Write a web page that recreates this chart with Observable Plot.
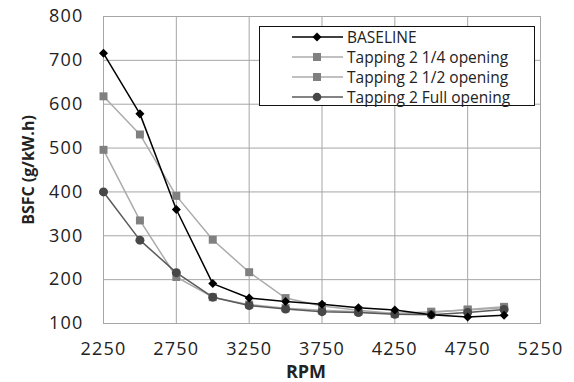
<!DOCTYPE html>
<html>
<head>
<meta charset="utf-8">
<script src="https://cdn.jsdelivr.net/npm/d3@7"></script>
<script src="https://cdn.jsdelivr.net/npm/@observablehq/plot@0.6"></script>
<style>
  html, body { margin: 0; padding: 0; background: #fff; }
  #wrap { position: relative; width: 574px; height: 382px; font-family: "Open Sans", sans-serif; color: #222; }
  #wrap svg g[aria-label$="tick label"] text { letter-spacing: 1.2px; }
  #legend { position: absolute; left: 259px; top: 26px; width: 276px; height: 80px; border: 1px solid #111; background: #fff; box-sizing: border-box; }
  .lrow { position: absolute; left: 0; height: 20px; display: flex; align-items: center; font-size: 15.5px; white-space: nowrap; }
  .lrow svg { margin-left: 32px; margin-right: 4px; }
  #xlabel { position: absolute; left: 306px; top: 362px; transform: translateX(-50%); font-weight: bold; font-size: 18px; line-height: 1; }
  #ylabel { position: absolute; left: 28px; top: 170px; transform: translate(-50%, -50%) rotate(-90deg); font-weight: bold; font-size: 16px; white-space: nowrap; }
</style>
</head>
<body>
<div id="wrap"></div>
<script>
const rpm      = [2250, 2500, 2750, 3000, 3250, 3500, 3750, 4000, 4250, 4500, 4750, 5000];
const baseline = [716, 578, 360, 191, 158, 150, 144, 136, 131, 120, 115, 119];
const tap14    = [618, 531, 391, 291, 217, 158, 140, 130, 123, 127, 131, 136];
const tap12    = [496, 335, 206, 160, 143, 135, 130, 127, 122, 125, 132, 138];
const tapFull  = [400, 290, 216, 160, 141, 133, 127, 125, 121, 120, 125, 132];
const xTicks = [2250, 2750, 3250, 3750, 4250, 4750, 5250];
const yTicks = [100, 200, 300, 400, 500, 600, 700, 800];
const seriesNames = ["BASELINE", "Tapping 2 1/4 opening", "Tapping 2 1/2 opening", "Tapping 2 Full opening"];

const styles = [
  {values: baseline, line: "#000000", mark: "#000000", symbol: "square", r: 3.6, rotate: 45},
  {values: tap14, line: "#ababab", mark: "#808080", symbol: "square", r: 4.5, rotate: 0},
  {values: tap12, line: "#ababab", mark: "#808080", symbol: "square", r: 4.5, rotate: 0},
  {values: tapFull, line: "#5a5a5a", mark: "#474747", symbol: "circle", r: 4.5, rotate: 0}
];

const rows = (vals) => rpm.map((x, i) => ({x, y: vals[i]}));
const drawOrder = [2, 1, 3, 0];
const marks = [
  Plot.gridX(xTicks, {stroke: "#a6a6a6", strokeOpacity: 1}),
  Plot.gridY(yTicks, {stroke: "#a6a6a6", strokeOpacity: 1}),
  Plot.frame({stroke: "#a6a6a6"}),
  Plot.axisX(xTicks, {tickSize: 0, tickPadding: 19, fontSize: 18, label: null, fill: "#222", tickFormat: d => String(d)}),
  Plot.axisY(yTicks, {tickSize: 0, tickPadding: 20, fontSize: 18, label: null, fill: "#222", tickFormat: d => String(d)})
];
for (const i of drawOrder) {
  const s = styles[i];
  marks.push(Plot.line(rows(s.values), {x: "x", y: "y", stroke: s.line, strokeWidth: 1.5}));
}
for (const i of drawOrder) {
  const s = styles[i];
  marks.push(Plot.dot(rows(s.values), {x: "x", y: "y", symbol: s.symbol, r: s.r, fill: s.mark, rotate: s.rotate}));
}

const chart = Plot.plot({
  width: 574, height: 382,
  marginLeft: 103, marginRight: 34, marginTop: 16, marginBottom: 59,
  style: {fontFamily: "Open Sans, sans-serif", background: "#fff", overflow: "visible"},
  x: {domain: [2250, 5250]},
  y: {domain: [100, 800]},
  marks
});

const wrap = document.getElementById("wrap");
wrap.appendChild(chart);

const legend = document.createElement("div");
legend.id = "legend";
seriesNames.forEach((name, i) => {
  const s = styles[i];
  const row = document.createElement("div");
  row.className = "lrow";
  row.style.top = (i * 20) + "px";
  let marker;
  if (s.symbol === "circle") marker = `<circle cx="25" cy="8" r="4.3" fill="${s.mark}"/>`;
  else if (s.rotate === 45) marker = `<rect x="21.8" y="4.8" width="6.4" height="6.4" fill="${s.mark}" transform="rotate(45 25 8)"/>`;
  else marker = `<rect x="21" y="4" width="8" height="8" fill="${s.mark}"/>`;
  row.innerHTML = `<svg width="51" height="16"><line x1="0" y1="8" x2="51" y2="8" stroke="${s.line}" stroke-width="1.5"/>${marker}</svg><span>${name}</span>`;
  legend.appendChild(row);
});
wrap.appendChild(legend);

const xl = document.createElement("div"); xl.id = "xlabel"; xl.textContent = "RPM"; wrap.appendChild(xl);
const yl = document.createElement("div"); yl.id = "ylabel"; yl.textContent = "BSFC (g/kW.h)"; wrap.appendChild(yl);
</script>
</body>
</html>
